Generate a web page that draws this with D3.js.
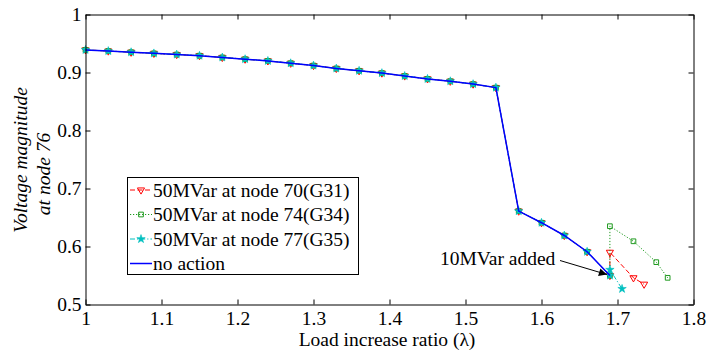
<!DOCTYPE html>
<html>
<head>
<meta charset="utf-8">
<script src="https://cdn.jsdelivr.net/npm/d3@7"></script>
<style>
  body { margin: 0; background: #fff; }
  svg text { font-family: "Liberation Serif", "Times New Roman", serif !important; fill: #000; }
</style>
</head>
<body>
<div id="chart"></div>
<script>
// DATA
// shared path (no action), load increase ratio and voltage at node 76
var lambdaBase = [1.00, 1.03, 1.06, 1.09, 1.12, 1.15, 1.18, 1.21, 1.24, 1.27, 1.30, 1.33,
                  1.36, 1.39, 1.42, 1.45, 1.48, 1.51, 1.54, 1.57, 1.60, 1.63, 1.66, 1.69];
var voltBase = [0.939, 0.937, 0.935, 0.933, 0.931, 0.929, 0.926, 0.923, 0.920, 0.916, 0.912, 0.907,
                0.903, 0.899, 0.894, 0.889, 0.885, 0.880, 0.874, 0.661, 0.641, 0.619, 0.591, 0.550];

// after the reactive power is added
var lambdaG31 = [1.69, 1.721, 1.735];
var voltG31 = [0.590, 0.546, 0.535];
var lambdaG34 = [1.69, 1.721, 1.751, 1.766];
var voltG34 = [0.635, 0.609, 0.573, 0.546];
var lambdaG35 = [1.69, 1.706];
var voltG35 = [0.560, 0.527];

var seriesNames = ["50MVar at node 70(G31)", "50MVar at node 74(G34)", "50MVar at node 77(G35)", "no action"];
var xTicks = [1, 1.1, 1.2, 1.3, 1.4, 1.5, 1.6, 1.7, 1.8];
var yTicks = [0.5, 0.6, 0.7, 0.8, 0.9, 1];

// SETUP
var svgWidth = 706, svgHeight = 352;
var serif = "'Liberation Serif', 'Times New Roman', serif";
var svg = d3.select("#chart").append("svg")
    .attr("width", svgWidth)
    .attr("height", svgHeight);

var x = d3.scaleLinear().domain([1, 1.8]).range([85.5, 693.5]);
var y = d3.scaleLinear().domain([0.5, 1]).range([304.5, 14.5]);

function zip(xs, ys) {
    return xs.map(function(d, i) { return { x: d, y: ys[i] }; });
}

var base = zip(lambdaBase, voltBase);
var series = [
    { name: seriesNames[0], pts: base.concat(zip(lambdaG31, voltG31)), color: "#ff0000", dash: "5,2.5", marker: "tri" },
    { name: seriesNames[1], pts: base.concat(zip(lambdaG34, voltG34)), color: "#1f9a1f", dash: "1.2,1.8", marker: "sq" },
    { name: seriesNames[2], pts: base.concat(zip(lambdaG35, voltG35)), color: "#00bfbf", dash: "5,2,1.2,2", marker: "star" }
];

var line = d3.line().x(d => x(d.x)).y(d => y(d.y));

function drawMarker(g, type, color) {
    if (type == "tri") {
        g.append("path")
            .attr("d", d3.symbol().type(d3.symbolTriangle).size(22)())
            .attr("transform", "rotate(180)")
            .attr("fill", "none").attr("stroke", color).attr("stroke-width", 1);
    } else if (type == "sq") {
        g.append("path")
            .attr("d", d3.symbol().type(d3.symbolSquare).size(22)())
            .attr("fill", "none").attr("stroke", color).attr("stroke-width", 1);
    } else {
        g.append("path")
            .attr("d", d3.symbol().type(d3.symbolStar).size(22)())
            .attr("fill", color).attr("stroke", color).attr("stroke-width", 0.6);
    }
}

function styleText(sel) {
    sel.style("font-family", serif).style("font-size", "19.5px").attr("fill", "#000");
}

// LINES AND MARKERS
series.forEach(function(s) {
    svg.append("path")
        .datum(s.pts)
        .attr("fill", "none")
        .attr("stroke", s.color)
        .attr("stroke-width", 1)
        .attr("stroke-dasharray", s.dash)
        .attr("d", line);
    svg.append("g").selectAll("g")
        .data(s.pts)
        .join("g")
        .attr("transform", d => "translate(" + x(d.x) + "," + y(d.y) + ")")
        .each(function() { drawMarker(d3.select(this), s.marker, s.color); });
});

svg.append("path")
    .datum(base)
    .attr("fill", "none")
    .attr("stroke", "#0000ff")
    .attr("stroke-width", 1.5)
    .attr("d", line);

// AXES (box with inward ticks)
var tk = 5;
svg.append("g")
    .attr("transform", "translate(0," + y(0.5) + ")")
    .call(d3.axisBottom(x).tickValues(xTicks).tickSizeInner(-tk).tickSizeOuter(0).tickFormat(d3.format("")))
    .call(g => g.selectAll("text").call(styleText).attr("dy", null).attr("y", 20.5));
svg.append("g")
    .attr("transform", "translate(0," + y(1) + ")")
    .call(d3.axisTop(x).tickValues(xTicks).tickSizeInner(-tk).tickSizeOuter(0).tickFormat(""));
svg.append("g")
    .attr("transform", "translate(" + x(1) + ",0)")
    .call(d3.axisLeft(y).tickValues(yTicks).tickSizeInner(-tk).tickSizeOuter(0).tickFormat(d3.format("")))
    .call(g => g.selectAll("text").call(styleText).attr("x", -4).attr("dy", "0.33em"));
svg.append("g")
    .attr("transform", "translate(" + x(1.8) + ",0)")
    .call(d3.axisRight(y).tickValues(yTicks).tickSizeInner(-tk).tickSizeOuter(0).tickFormat(""));
svg.selectAll(".domain").attr("stroke", "#000");
svg.selectAll(".tick line").attr("stroke", "#000");

// LABELS
svg.append("text")
    .attr("x", 387).attr("y", 346)
    .attr("text-anchor", "middle")
    .call(styleText)
    .text("Load increase ratio (\u03bb)");
svg.append("text")
    .attr("transform", "translate(26.5,160) rotate(-90)")
    .attr("text-anchor", "middle")
    .call(styleText)
    .style("font-style", "italic")
    .text("Voltage magnitude");
svg.append("text")
    .attr("transform", "translate(50,174) rotate(-90)")
    .attr("text-anchor", "middle")
    .call(styleText)
    .style("font-style", "italic")
    .text("at node 76");

// ANNOTATION
svg.append("defs").append("marker")
    .attr("id", "arrow")
    .attr("viewBox", "0 0 10 10")
    .attr("refX", 10).attr("refY", 5)
    .attr("markerWidth", 10).attr("markerHeight", 8)
    .attr("markerUnits", "userSpaceOnUse")
    .attr("orient", "auto")
    .append("path").attr("d", "M0,0L10,5L0,10Z").attr("fill", "#000");
svg.append("text")
    .attr("x", 440).attr("y", 265)
    .call(styleText)
    .text("10MVar added");
svg.append("line")
    .attr("x1", 560).attr("y1", 260.5)
    .attr("x2", x(1.69) - 3).attr("y2", y(0.550) - 1)
    .attr("stroke", "#000").attr("stroke-width", 1)
    .attr("marker-end", "url(#arrow)");

// LEGEND
var legend = svg.append("g");
legend.append("rect")
    .attr("x", 127.5).attr("y", 177.5)
    .attr("width", 231).attr("height", 97)
    .attr("fill", "#fff").attr("stroke", "#000").attr("stroke-width", 1);
var legendItems = series.concat([{ name: seriesNames[3], color: "#0000ff", dash: null, marker: null }]);
legendItems.forEach(function(s, i) {
    var cy = 190 + i * 24.5;
    legend.append("line")
        .attr("x1", 130).attr("x2", 152)
        .attr("y1", cy).attr("y2", cy)
        .attr("stroke", s.color)
        .attr("stroke-width", s.marker ? 1 : 1.5)
        .attr("stroke-dasharray", s.dash);
    if (s.marker) {
        var mg = legend.append("g").attr("transform", "translate(141," + cy + ")");
        drawMarker(mg, s.marker, s.color);
    }
    legend.append("text")
        .attr("x", 153).attr("y", cy + 6.5)
        .call(styleText)
        .text(s.name);
});
</script>
</body>
</html>
